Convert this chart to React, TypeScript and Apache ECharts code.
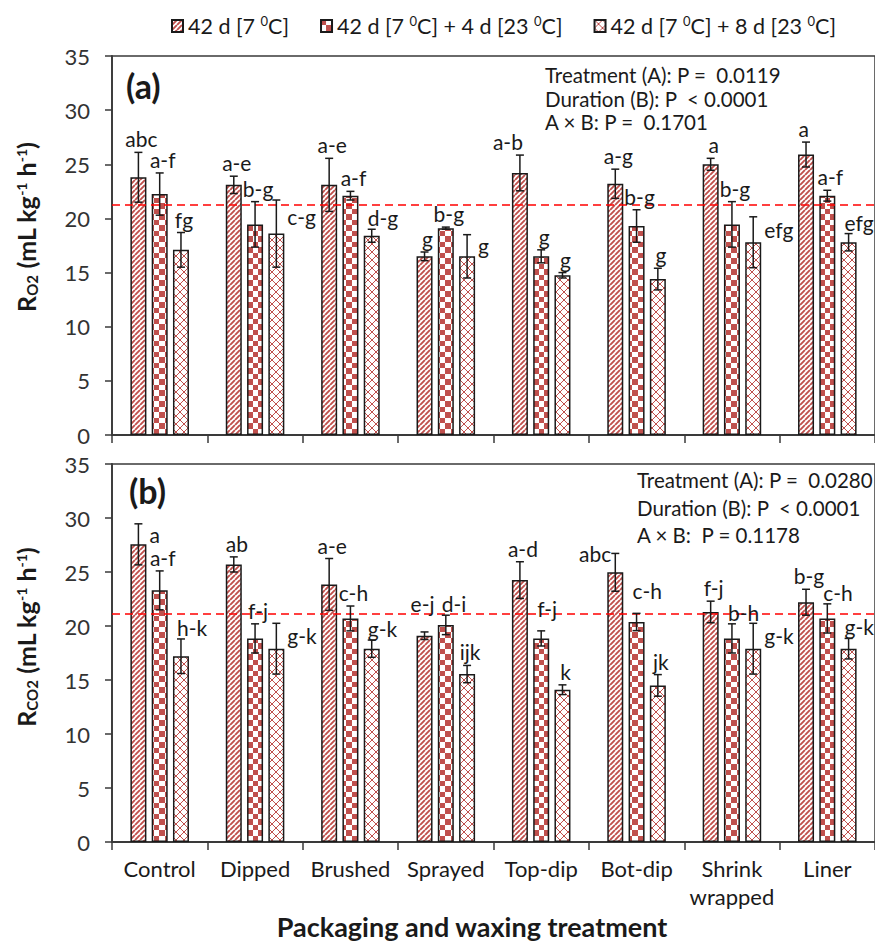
import React, { useEffect, useRef } from 'react';
import * as echarts from 'echarts';

// ---------- data ----------
const categories = ['Control', 'Dipped', 'Brushed', 'Sprayed', 'Top-dip', 'Bot-dip', 'Shrink\nwrapped', 'Liner'];
const seriesNames = ['42 d [7 0C]', '42 d [7 0C] + 4 d [23 0C]', '42 d [7 0C] + 8 d [23 0C]'];

// Panel (a) R_O2
const o2Day42 = [23.8, 23.1, 23.1, 16.5, 24.2, 23.2, 25.0, 25.9];
const o2Day42Err = [2.3, 0.8, 2.45, 0.4, 1.65, 1.35, 0.55, 1.15];
const o2Day46 = [22.25, 19.45, 22.1, 19.1, 16.5, 19.3, 19.45, 22.1];
const o2Day46Err = [1.95, 2.1, 0.4, 0.1, 0.6, 1.5, 2.1, 0.5];
const o2Day50 = [17.1, 18.6, 18.4, 16.5, 14.75, 14.4, 17.8, 17.8];
const o2Day50Err = [1.6, 3.1, 0.6, 2.0, 0.25, 1.0, 2.35, 0.8];
const o2Letters1 = ['abc', 'a-e', 'a-e', 'g', 'a-b', 'a-g', 'a', 'a'];
const o2Letters2 = ['a-f', 'b-g', 'a-f', 'b-g', 'g', 'b-g', 'b-g', 'a-f'];
const o2Letters3 = ['fg', 'c-g', 'd-g', 'g', 'g', 'g', 'efg', 'efg'];
const o2Mean = 21.25;
const o2Stats = ['Treatment (A): P =  0.0119', 'Duration (B): P  < 0.0001', 'A × B: P =  0.1701'];

// Panel (b) R_CO2
const co2Day42 = [27.56, 25.7, 23.85, 19.1, 24.25, 24.97, 21.3, 22.2];
const co2Day42Err = [1.9, 0.7, 2.4, 0.35, 1.7, 1.75, 1.0, 1.2];
const co2Day46 = [23.3, 18.85, 20.7, 20.1, 18.85, 20.37, 18.85, 20.7];
const co2Day46Err = [1.8, 1.35, 1.15, 0.9, 0.7, 0.8, 1.35, 1.35];
const co2Day50 = [17.2, 17.9, 17.9, 15.55, 14.1, 14.5, 17.9, 17.9];
const co2Day50Err = [1.6, 2.35, 0.8, 0.8, 0.45, 1.0, 2.35, 0.95];
const co2Letters1 = ['a', 'ab', 'a-e', 'e-j', 'a-d', 'abc', 'f-j', 'b-g'];
const co2Letters2 = ['a-f', 'f-j', 'c-h', 'd-i', 'f-j', 'c-h', 'b-h', 'c-h'];
const co2Letters3 = ['h-k', 'g-k', 'g-k', 'ijk', 'k', 'jk', 'g-k', 'g-k'];
const co2Mean = 21.1;
const co2Stats = ['Treatment (A): P =  0.0280', 'Duration (B): P  < 0.0001', 'A × B:  P = 0.1178'];

// letter placement modes (t = above, th = high above, tr = above-right, trh = high above-right,
// tl = above-left, r = right, l = left)
const o2Modes1 = ['t', 't', 't', 't', 'tl', 't', 't', 'tl'];
const o2Modes2 = ['t', 't', 't', 't', 't', 't', 't', 't'];
const o2Modes3 = ['t', 'r', 'tr', 'r', 't', 't', 'r', 'tr'];
const co2Modes1 = ['r', 't', 't', 'th', 't', 'l', 't', 't'];
const co2Modes2 = ['t', 't', 't', 'tr', 'trh', 'trh', 'tr', 'tr'];
const co2Modes3 = ['tr', 'r', 'tr', 't', 't', 't', 'r', 'tr'];

// ---------- style ----------
const RED = '#C0504D';
const FONT = 'Lato, "Noto Sans", sans-serif';
const INK = '#1a1a1a';
const AXIS = '#3a3a3a';
const BAR_W = 16;
const STEP = BAR_W * 1.33;

function makeTile(kind: string) {
  const c = document.createElement('canvas');
  const size = kind === 'hatch' ? 5 : kind === 'check' ? 11 : 8;
  c.width = size;
  c.height = size;
  const ctx = c.getContext('2d') as CanvasRenderingContext2D;
  ctx.fillStyle = '#ffffff';
  ctx.fillRect(0, 0, size, size);
  ctx.strokeStyle = RED;
  ctx.fillStyle = RED;
  if (kind === 'hatch') {
    ctx.lineWidth = 1.9;
    ctx.beginPath();
    for (let k = -1; k <= 1; k++) {
      ctx.moveTo(k * size, size);
      ctx.lineTo(k * size + size, 0);
    }
    ctx.stroke();
  } else if (kind === 'check') {
    const h = Math.floor(size / 2);
    ctx.fillRect(0, 0, h, h);
    ctx.fillRect(h, h, size - h, size - h);
  } else {
    ctx.lineWidth = 1;
    ctx.beginPath();
    for (let k = -1; k <= 1; k++) {
      ctx.moveTo(k * size, size);
      ctx.lineTo(k * size + size, 0);
      ctx.moveTo(k * size, 0);
      ctx.lineTo(k * size + size, size);
    }
    ctx.stroke();
  }
  return { image: c.toDataURL(), repeat: 'repeat', imageWidth: size, imageHeight: size } as any;
}

function richLegend(name: string) {
  return name.replace(/ 0C/g, ' {s|0}C');
}

export default function App() {
  const ref = useRef<HTMLDivElement>(null);

  useEffect(() => {
    if (!ref.current) return;
    const chart = echarts.init(ref.current, undefined, { renderer: 'svg' });
    const patterns = [makeTile('hatch'), makeTile('check'), makeTile('cross')];

    const panels = [
      {
        values: [o2Day42, o2Day46, o2Day50],
        errs: [o2Day42Err, o2Day46Err, o2Day50Err],
        letters: [o2Letters1, o2Letters2, o2Letters3],
        modes: [o2Modes1, o2Modes2, o2Modes3],
        mean: o2Mean,
      },
      {
        values: [co2Day42, co2Day46, co2Day50],
        errs: [co2Day42Err, co2Day46Err, co2Day50Err],
        letters: [co2Letters1, co2Letters2, co2Letters3],
        modes: [co2Modes1, co2Modes2, co2Modes3],
        mean: co2Mean,
      },
    ];

    const series: any[] = [];
    panels.forEach((p, g) => {
      p.values.forEach((vals, s) => {
        series.push({
          type: 'bar',
          name: seriesNames[s],
          xAxisIndex: g,
          yAxisIndex: g,
          data: vals,
          barWidth: BAR_W,
          barGap: '33%',
          itemStyle: { color: patterns[s], borderColor: INK, borderWidth: 1.5 },
          markLine:
            s === 0
              ? {
                  silent: true,
                  symbol: 'none',
                  label: { show: false },
                  lineStyle: { color: '#FF0000', type: [8, 5], width: 1.5 },
                  data: [{ yAxis: p.mean }],
                }
              : undefined,
        });
      });
      const items: number[][] = [];
      const labs: string[] = [];
      const modes: string[] = [];
      p.values.forEach((vals, s) => {
        vals.forEach((v, c) => {
          items.push([c, s, v, p.errs[s][c]]);
          labs.push(p.letters[s][c]);
          modes.push(p.modes[s][c]);
        });
      });
      series.push({
        type: 'custom',
        xAxisIndex: g,
        yAxisIndex: g,
        silent: true,
        z: 10,
        encode: { x: 0, y: 2 },
        data: items,
        renderItem: (params: any, api: any) => {
          const c = api.value(0);
          const s = api.value(1);
          const v = api.value(2);
          const e = api.value(3);
          const base = api.coord([c, v]);
          const cx = base[0] + (s - 1) * STEP;
          const yTop = api.coord([c, v + e])[1];
          const yBot = api.coord([c, v - e])[1];
          const yMid = api.coord([c, v + e / 2])[1];
          const lab = labs[params.dataIndex];
          const mode = modes[params.dataIndex];
          let tx = cx + 3;
          let ty = yTop - 3;
          let align = 'center';
          let valign = 'bottom';
          if (mode === 'th') {
            tx = cx - 2;
            ty = yTop - 18;
          } else if (mode === 'tr' || mode === 'trh') {
            tx = cx - 4;
            ty = mode === 'trh' ? yTop - 12 : yTop - 1;
            align = 'left';
          } else if (mode === 'tl') {
            tx = cx + 3;
            align = 'right';
          } else if (mode === 'r') {
            tx = cx + BAR_W / 2 + 3;
            ty = yMid;
            align = 'left';
            valign = 'middle';
          } else if (mode === 'l') {
            tx = cx - 4;
            ty = yTop;
            align = 'right';
            valign = 'middle';
          }
          const ls = { stroke: INK, lineWidth: 1.5 };
          return {
            type: 'group',
            children: [
              { type: 'line', shape: { x1: cx, y1: yTop, x2: cx, y2: yBot }, style: ls },
              { type: 'line', shape: { x1: cx - 4, y1: yTop, x2: cx + 4, y2: yTop }, style: ls },
              { type: 'line', shape: { x1: cx - 4, y1: yBot, x2: cx + 4, y2: yBot }, style: ls },
              {
                type: 'text',
                x: tx,
                y: ty,
                style: {
                  text: lab,
                  fill: INK,
                  font: `21px ${FONT}`,
                  textAlign: align,
                  textVerticalAlign: valign,
                  align,
                  verticalAlign: valign,
                },
              },
            ],
          };
        },
      });
    });

    const grids = [
      { left: 112, top: 56, width: 769.5, height: 379 },
      { left: 112, top: 464, width: 769.5, height: 378 },
    ];

    const xAxes = grids.map((_, g) => ({
      type: 'category',
      gridIndex: g,
      data: categories,
      axisLine: { lineStyle: { color: AXIS, width: 1.8 } },
      axisTick: { show: true, length: 8, lineStyle: { color: AXIS, width: 1.5 } },
      axisLabel: {
        show: g === 1,
        color: INK,
        fontFamily: FONT,
        fontSize: 22,
        lineHeight: 28,
        margin: 12,
        interval: 0,
      },
    }));

    const yAxes = grids.map((_, g) => ({
      type: 'value',
      gridIndex: g,
      min: 0,
      max: 35,
      interval: 5,
      splitLine: { show: false },
      axisLine: { show: true, lineStyle: { color: AXIS, width: 1.8 } },
      axisTick: { show: true, length: 7, lineStyle: { color: AXIS, width: 1.5 } },
      axisLabel: { color: '#333', fontFamily: FONT, fontSize: 22, margin: 22 },
    }));

    const statText = (lines: string[], x: number, y0: number, dy: number) =>
      lines.map((t, i) => ({
        type: 'text',
        x,
        y: y0 + i * dy,
        style: {
          text: t,
          fill: INK,
          font: `20.5px ${FONT}`,
          textAlign: 'left',
          textVerticalAlign: 'middle',
          align: 'left',
          verticalAlign: 'middle',
        },
      }));

    const axisNameRich = {
      b: { fontFamily: FONT, fontWeight: 'bold', fontSize: 25, lineHeight: 30, color: INK },
      sub: { fontFamily: FONT, fontWeight: 'bold', fontSize: 15, lineHeight: 30, verticalAlign: 'bottom', color: INK, padding: [0, 0, 2, 0] },
      sup: { fontFamily: FONT, fontWeight: 'bold', fontSize: 14, lineHeight: 30, verticalAlign: 'top', color: INK, padding: [3, 0, 0, 0] },
    };

    const yName = (sub: string, x: number, y: number) => ({
      type: 'text',
      x,
      y,
      rotation: Math.PI / 2,
      style: {
        text: `{b|R}{sub|${sub}}{b| (mL kg}{sup|-1}{b| h}{sup|-1}{b|)}`,
        rich: axisNameRich,
        fill: INK,
        textAlign: 'center',
        textVerticalAlign: 'middle',
        align: 'center',
        verticalAlign: 'middle',
      },
    });

    const option: any = {
      animation: false,
      backgroundColor: '#ffffff',
      textStyle: { fontFamily: FONT },
      legend: {
        top: 9,
        left: 166,
        icon: 'rect',
        itemWidth: 11,
        itemHeight: 12,
        itemGap: 31,
        data: seriesNames,
        formatter: (name: string) => richLegend(name),
        textStyle: {
          fontFamily: FONT,
          fontSize: 21.5,
          color: INK,
          rich: {
            s: { fontFamily: FONT, fontSize: 13, color: INK, verticalAlign: 'top', lineHeight: 24 },
          },
        },
      },
      grid: grids.map((g) => ({ ...g, show: true, borderColor: AXIS, borderWidth: 1.5, backgroundColor: 'transparent' })),
      xAxis: xAxes,
      yAxis: yAxes,
      series,
      graphic: [
        {
          type: 'text',
          x: 126,
          y: 85,
          style: { text: '(a)', fill: INK, font: `bold 34px ${FONT}`, textAlign: 'left', textVerticalAlign: 'middle', align: 'left', verticalAlign: 'middle' },
        },
        {
          type: 'text',
          x: 129,
          y: 490,
          style: { text: '(b)', fill: INK, font: `bold 34px ${FONT}`, textAlign: 'left', textVerticalAlign: 'middle', align: 'left', verticalAlign: 'middle' },
        },
        ...statText(o2Stats, 545, 75, 23.5),
        ...statText(co2Stats, 637, 480, 27.5),
        yName('O2', 26, 227),
        yName('CO2', 26, 637),
        {
          type: 'text',
          x: 472,
          y: 926,
          style: {
            text: 'Packaging and waxing treatment',
            fill: INK,
            font: `bold 27px ${FONT}`,
            textAlign: 'center',
            textVerticalAlign: 'middle',
            align: 'center',
            verticalAlign: 'middle',
          },
        },
      ],
    };

    chart.setOption(option);
    return () => chart.dispose();
  }, []);

  return (
    <div
      ref={ref}
      style={{ position: 'fixed', left: 0, top: 0, width: 875, height: 941, background: '#fff' }}
    />
  );
}
